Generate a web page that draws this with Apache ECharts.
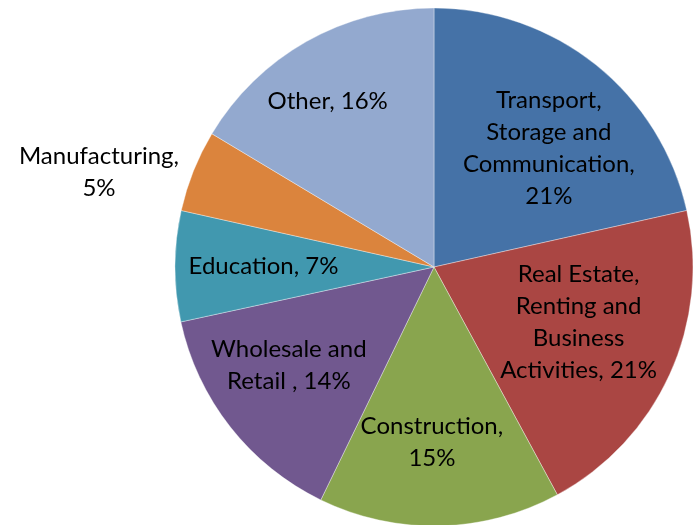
<!DOCTYPE html>
<html>
<head>
<meta charset="utf-8">
<script src="https://cdn.jsdelivr.net/npm/echarts@6/dist/echarts.min.js"></script>
<style>
  html, body { margin: 0; padding: 0; background: #fff; }
  #main { width: 696px; height: 525px; }
</style>
</head>
<body>
<div id="main"></div>
<script>
// sector shares (percent)
const categories = [
  "Transport, Storage and Communication",
  "Real Estate, Renting and Business Activities",
  "Construction",
  "Wholesale and Retail",
  "Education",
  "Manufacturing",
  "Other"
];
const values = [21.5, 20.6, 15.1, 14.4, 6.9, 5.1, 16.4];
const labelTexts = [
  "Transport,\nStorage and\nCommunication,\n21%",
  "Real Estate,\nRenting and\nBusiness\nActivities, 21%",
  "Construction,\n15%",
  "Wholesale and\nRetail , 14%",
  "Education, 7%",
  "Manufacturing,\n5%",
  "Other, 16%"
];
const colors = ["#4572A7", "#AA4643", "#89A54E", "#71588F", "#4198AF", "#DB843D", "#93A9CF"];
// nudges from the default inside spot to where the labels sit
const labelOffsets = [[32, -15], [24, 0], [-5, 43], [-41, 16], [-38, 0], [-212, -46], [-41, -50]];

let myChart = echarts.init(document.getElementById("main"));
let option = {
  animation: false,
  color: colors,
  series: [
    {
      type: "pie",
      center: [434, 267],
      radius: 259,
      startAngle: 90,
      clockwise: true,
      itemStyle: {
        borderColor: "rgba(255,255,255,0.6)",
        borderWidth: 0.6
      },
      label: {
        position: "inside",
        color: "#000",
        fontFamily: "Lato",
        fontSize: 24,
        lineHeight: 32,
        align: "center"
      },
      labelLine: { show: false },
      emphasis: { disabled: true },
      data: categories.map((name, i) => ({
        name: name,
        value: values[i],
        label: {
          formatter: labelTexts[i],
          offset: labelOffsets[i]
        }
      }))
    }
  ]
};
myChart.setOption(option);
</script>
</body>
</html>
